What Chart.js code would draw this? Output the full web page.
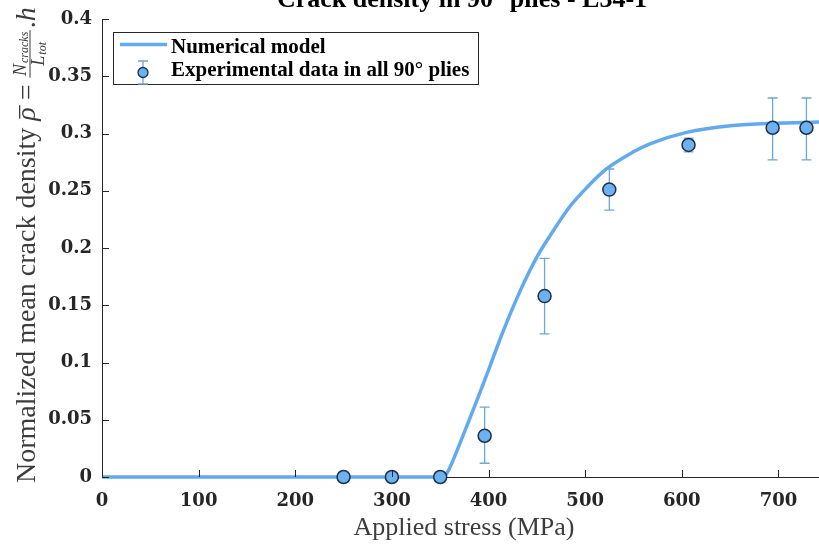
<!DOCTYPE html>
<html>
<head>
<meta charset="utf-8">
<script src="https://cdn.jsdelivr.net/npm/chart.js@4.4.1/dist/chart.umd.min.js"></script>
<style>
html,body{margin:0;padding:0;background:#fff;}
#wrap{width:819px;height:544px;position:relative;}
</style>
</head>
<body>
<div id="wrap"><canvas id="c" width="819" height="544"></canvas></div>
<script>
// ---- data ----
const chartTitle = 'Crack density in 90° plies - L34-1';
const xTitle = 'Applied stress (MPa)';
const seriesModel = 'Numerical model';
const seriesExp = 'Experimental data in all 90° plies';

const modelX = [0, 353, 358, 364, 374, 388, 398, 415, 433, 450, 467, 484, 502, 522, 550, 567, 605, 653, 695, 742];
const modelY = [0, 0, 0.005, 0.016, 0.037, 0.067, 0.089, 0.127, 0.163, 0.192, 0.215, 0.236, 0.253, 0.269, 0.284, 0.291, 0.301, 0.307, 0.309, 0.310];

const expX = [250, 300, 350, 396, 458, 525, 607, 694, 729];
const expY = [0, 0, 0, 0.036, 0.158, 0.251, 0.290, 0.305, 0.305];
const expLow = [0, 0, 0, 0.012, 0.125, 0.233, 0.284, 0.277, 0.277];
const expHigh = [0, 0, 0, 0.061, 0.191, 0.269, 0.296, 0.331, 0.331];

const xTicks = [0, 100, 200, 300, 400, 500, 600, 700];
const xTickLabels = ['0', '100', '200', '300', '400', '500', '600', '700'];
const yTicks = [0, 0.05, 0.1, 0.15, 0.2, 0.25, 0.3, 0.35, 0.4];
const yTickLabels = ['0', '0.05', '0.1', '0.15', '0.2', '0.25', '0.3', '0.35', '0.4'];

// ---- styles ----
const lineColor = '#62aaf0';
const markerFill = '#6cb2f2';
const markerEdge = '#1e3047';
const errColor = '#6aa8dc';
const axisColor = '#262626';
const labelColor = '#3c3c3c';

const decorPlugin = {
  id: 'decor',
  beforeDatasetsDraw(chart) {
    const ctx = chart.ctx, xs = chart.scales.x, ys = chart.scales.y;
    ctx.save();
    ctx.strokeStyle = errColor;
    ctx.lineWidth = 1.3;
    for (let i = 0; i < expX.length; i++) {
      if (expHigh[i] - expLow[i] <= 0) continue;
      const px = xs.getPixelForValue(expX[i]);
      const p1 = ys.getPixelForValue(expLow[i]);
      const p2 = ys.getPixelForValue(expHigh[i]);
      ctx.beginPath();
      ctx.moveTo(px, p1); ctx.lineTo(px, p2);
      ctx.moveTo(px - 5, p1); ctx.lineTo(px + 5, p1);
      ctx.moveTo(px - 5, p2); ctx.lineTo(px + 5, p2);
      ctx.stroke();
    }
    ctx.restore();
  },
  afterDraw(chart) {
    const ctx = chart.ctx, xs = chart.scales.x, ys = chart.scales.y;
    const area = chart.chartArea;
    ctx.save();
    // inward ticks
    ctx.strokeStyle = axisColor;
    ctx.lineWidth = 1;
    ctx.beginPath();
    xTicks.forEach(v => {
      const p = Math.round(xs.getPixelForValue(v)) + 0.5;
      ctx.moveTo(p, area.bottom); ctx.lineTo(p, area.bottom - 7);
    });
    yTicks.forEach(v => {
      const p = Math.round(ys.getPixelForValue(v)) + 0.5;
      ctx.moveTo(area.left, p); ctx.lineTo(area.left + 7, p);
    });
    ctx.stroke();

    // title (partly cut off at the top)
    ctx.fillStyle = '#000';
    ctx.font = 'bold 26px "Liberation Serif"';
    ctx.textAlign = 'center';
    ctx.textBaseline = 'alphabetic';
    ctx.fillText(chartTitle, 462, 7);

    // x axis title
    ctx.fillStyle = labelColor;
    ctx.font = '26px "Liberation Serif"';
    ctx.fillText(xTitle, 464, 535);

    // y axis title with fraction
    ctx.save();
    ctx.translate(35, 483);
    ctx.rotate(-Math.PI / 2);
    ctx.textAlign = 'left';
    ctx.textBaseline = 'alphabetic';
    ctx.fillStyle = labelColor;
    let u = 0;
    ctx.font = '28px "Liberation Serif"';
    const t1 = 'Normalized mean crack density ';
    ctx.fillText(t1, u, 0); u += ctx.measureText(t1).width;
    ctx.font = 'italic 28px "Liberation Serif"';
    const rw = ctx.measureText('ρ').width;
    ctx.fillText('ρ', u, 0);
    ctx.fillRect(u + 2, -16, rw, 1.3);
    u += rw;
    ctx.font = '28px "Liberation Serif"';
    const eq = ' = ';
    ctx.fillText(eq, u, 0); u += ctx.measureText(eq).width;
    // fraction
    ctx.font = 'italic 18px "Liberation Serif"';
    const nW = ctx.measureText('N').width;
    const lW = ctx.measureText('L').width;
    ctx.font = 'italic 12px "Liberation Serif"';
    const cW = ctx.measureText('cracks').width;
    const tW = ctx.measureText('tot').width;
    const numW = nW + cW + 1, denW = lW + tW + 1;
    const fw = Math.max(numW, denW) + 3;
    ctx.fillRect(u, -5.5, fw, 1);
    let nx = u + (fw - numW) / 2;
    ctx.font = 'italic 18px "Liberation Serif"';
    ctx.fillText('N', nx, -9);
    ctx.font = 'italic 12px "Liberation Serif"';
    ctx.fillText('cracks', nx + nW + 1, -7);
    let dx = u + (fw - denW) / 2;
    ctx.font = 'italic 18px "Liberation Serif"';
    ctx.fillText('L', dx, 8.5);
    ctx.font = 'italic 12px "Liberation Serif"';
    ctx.fillText('tot', dx + lW + 1, 11);
    u += fw + 2;
    ctx.font = '28px "Liberation Serif"';
    ctx.fillText('.', u, 0); u += ctx.measureText('.').width;
    ctx.font = 'italic 28px "Liberation Serif"';
    ctx.fillText('h', u, 0);
    ctx.restore();

    // legend
    const ds = chart.data.datasets;
    ctx.fillStyle = '#fff';
    ctx.fillRect(113, 32, 365, 52);
    ctx.strokeStyle = axisColor;
    ctx.lineWidth = 1;
    ctx.strokeRect(113.5, 32.5, 365, 52);
    ctx.strokeStyle = lineColor;
    ctx.lineWidth = 3.5;
    ctx.beginPath(); ctx.moveTo(120, 44.5); ctx.lineTo(167, 44.5); ctx.stroke();
    ctx.strokeStyle = errColor;
    ctx.lineWidth = 1.3;
    ctx.beginPath();
    ctx.moveTo(143, 61); ctx.lineTo(143, 84);
    ctx.moveTo(138, 61); ctx.lineTo(148, 61);
    ctx.moveTo(138, 84); ctx.lineTo(148, 84);
    ctx.stroke();
    ctx.beginPath(); ctx.arc(143, 72.5, 5, 0, Math.PI * 2);
    ctx.fillStyle = markerFill; ctx.fill();
    ctx.strokeStyle = markerEdge; ctx.lineWidth = 1.3; ctx.stroke();
    ctx.fillStyle = '#000';
    ctx.font = 'bold 21px "Liberation Serif"';
    ctx.textAlign = 'left';
    ctx.fillText(ds[0].label, 171, 53);
    ctx.fillText(ds[1].label, 171, 76);
    ctx.restore();
  }
};

const modelData = modelX.map((x, i) => ({x: x, y: modelY[i]}));
const expData = expX.map((x, i) => ({x: x, y: expY[i]}));

new Chart(document.getElementById('c'), {
  type: 'line',
  data: {
    datasets: [
      {
        label: seriesModel,
        data: modelData,
        borderColor: lineColor,
        borderWidth: 3.5,
        pointRadius: 0,
        cubicInterpolationMode: 'monotone',
        fill: false,
        clip: false,
        order: 2
      },
      {
        label: seriesExp,
        data: expData,
        showLine: false,
        pointRadius: 6.5,
        pointBackgroundColor: markerFill,
        pointBorderColor: markerEdge,
        pointBorderWidth: 1.5,
        clip: false,
        order: 1
      }
    ]
  },
  options: {
    responsive: false,
    animation: false,
    events: [],
    layout: {autoPadding: false, padding: {top: 19, left: 0, right: 0, bottom: 0}},
    plugins: {legend: {display: false}, title: {display: false}, tooltip: {enabled: false}},
    scales: {
      x: {
        type: 'linear',
        min: 0, max: 742,
        afterFit: s => { s.height = 67; s.paddingLeft = 0; s.paddingRight = 0; },
        afterBuildTicks: s => { s.ticks = xTicks.map(v => ({value: v})); },
        grid: {display: true, drawOnChartArea: false, drawTicks: false},
        border: {display: true, color: axisColor, width: 1},
        ticks: {
          padding: 14,
          maxRotation: 0,
          autoSkip: false,
          color: axisColor,
          font: {family: 'DejaVu Serif', weight: 'bold', size: 18},
          callback: (v, i) => xTickLabels[i]
        }
      },
      y: {
        type: 'linear',
        min: 0, max: 0.4,
        afterFit: s => { s.width = 102; s.paddingTop = 0; s.paddingBottom = 0; },
        afterBuildTicks: s => { s.ticks = yTicks.map(v => ({value: v})); },
        grid: {display: true, drawOnChartArea: false, drawTicks: false},
        border: {display: true, color: axisColor, width: 1},
        ticks: {
          padding: 10,
          autoSkip: false,
          color: axisColor,
          font: {family: 'DejaVu Serif', weight: 'bold', size: 18},
          callback: (v, i) => yTickLabels[i]
        }
      }
    }
  },
  plugins: [decorPlugin]
});
</script>
</body>
</html>
